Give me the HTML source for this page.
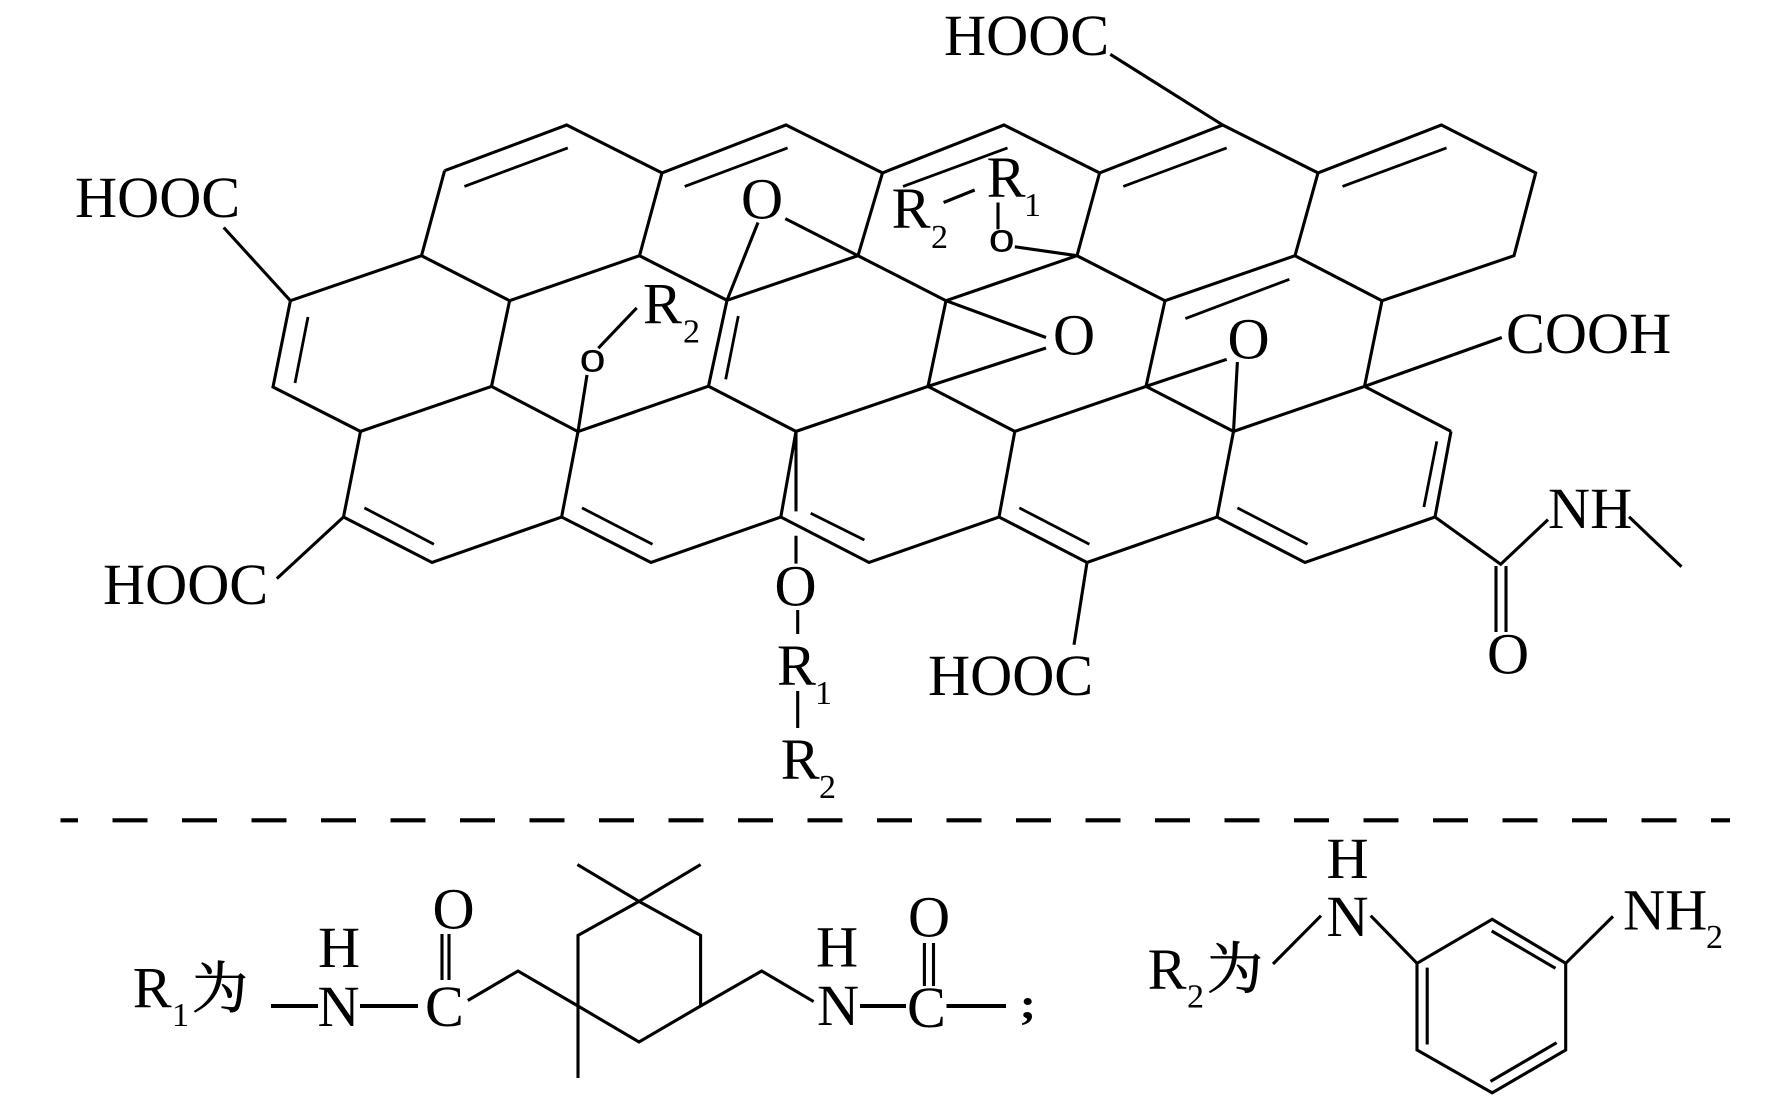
<!DOCTYPE html>
<html><head><meta charset="utf-8"><style>
html,body{margin:0;padding:0;background:#fff}
svg{display:block}
text{font-family:"Liberation Serif","Noto Serif CJK SC",serif;font-size:58.3px;fill:#000}
.s{font-size:34px}
.o{font-size:47px;font-family:"Liberation Sans",sans-serif}
.c{font-size:56px;font-family:"Noto Serif CJK SC","Liberation Serif",serif;stroke:#000;stroke-width:.8px}
</style></head><body>
<svg width="1772" height="1109" viewBox="0 0 1772 1109" xmlns="http://www.w3.org/2000/svg">
<g fill="none" stroke="#000" stroke-width="3.1" stroke-linecap="butt" stroke-linejoin="miter">
<!-- lattice -->
<path d="M444.6 170.7L566.7 125L662 172.9L786 125L882.5 172.9L1004 125L1099.6 172.9L1222.7 125L1318 172.9L1441.4 125L1535.7 172.9L1514 255.7L1382 300.7"/>
<path d="M444.6 170.7L421.5 255.7M662 172.9L639.5 255.7M882.5 172.9L858 255.7M1099.6 172.9L1077 255.7M1318 172.9L1295 255.7"/>
<path d="M290.4 300.7L421.5 255.7L509.6 300.7L639.5 255.7L727 300.3L858 255.7L946 300.7L1077 255.7L1165 300.7L1295 255.7L1382 300.7"/>
<path d="M290.4 300.7L273 387L360.5 431.4L491.5 386.4L578 431.6L708.5 386.2L796 431.4L928 386.4L1014.8 431.4L1146 386.4L1233.5 431.4L1364.5 386.4L1451 431.4"/>
<path d="M509.6 300.7L491.5 386.4M727 300.3L708.5 386.2M946 300.7L928 386.4M1165 300.7L1146 386.4M1382 300.7L1364.5 386.4"/>
<path d="M360.5 431.4L343.5 517M578 431.6L561.6 517M796 431.4L780.8 517M1014.8 431.4L999 517M1233.5 431.4L1217 517M1451 431.4L1435 517"/>
<path d="M343.5 517L432 562.5L561.6 517L651 562.5L780.8 517L869 562.5L999 517L1087 562.5L1217 517L1305 562.5L1435 517"/>
<!-- inner double bonds -->
<g stroke-width="2.8">
<path d="M464.4 186.4L567.8 147.9M684.7 186.4L787.6 147.9M903 186.4L1007.5 147.9M1123.3 186.4L1226.7 147.9M1342.5 186.4L1446.5 147.9M1185.4 318.6L1289.4 279.3"/>
<path d="M308 317L295 383M738.3 316L725.7 379.3M1436.8 441.4L1423.9 507"/>
<path d="M364.4 507.9L433.9 544.3M582 507.9L652.5 544.3M810.7 513.2L864.4 540M1019.3 507.9L1089.4 544.3M1237.4 507.9L1307.5 544.3"/>
</g>
<!-- substituent bonds -->
<path d="M223.7 227.5L290.4 300.7M1110.3 54.3L1222.7 125M276.8 578.6L343.5 517M1087 562.5L1074 644.8"/>
<path d="M758 222.5L727 300.3M785.3 218.6L858 255.7"/>
<path d="M636.7 307.9L598.3 348.2M587 375L578 431.6"/>
<path d="M796 431.4L796 511.4M796 535.7L796 563.6M797.7 610L797.7 634M797.7 691L797.7 728"/>
<path d="M943.6 202.5L974.7 190M998 202.5L998 229.3M1014.8 246.8L1077 255.7"/>
<path d="M946 300.7L1046 337.5M1046 348L928 386.4M1226.7 359.3L1146 386.4M1237.4 362L1233.5 431.4"/>
<path d="M1501.8 337.5L1364.5 386.4"/>
<path d="M1435 517L1500.7 564.3L1548 519.6M1629 516.8L1681.5 566.8M1496 566L1496 632M1506 566L1506 632"/>
<!-- dashed divider -->
<line x1="60.5" y1="820.3" x2="1730" y2="820.3" stroke-width="4.2" stroke-dasharray="35 34.5" stroke-dashoffset="17.5"/>
<!-- R1 definition -->
<path d="M271 1006L318 1006M360 1006L418 1006M860 1006L906 1006M946.5 1006L1006 1006" stroke-width="4"/>
<path d="M442 934L442 980M449 934L449 980M924.4 943L924.4 986M933.5 943L933.5 986"/>
<path d="M467.8 1000.5L518 971L578 1006L639 1042L700.6 1006L761.6 971L813.6 1001.6"/>
<path d="M578 1078L578 935.4L639 901.4L700.6 935.4L700.6 1006M577.4 864.6L639 901.4M700.6 864.6L639 901.4"/>
<!-- R2 definition -->
<path d="M1273 964L1321 915.7M1370.7 915.7L1417 963.3M1565.7 963.3L1613 916.4"/>
<path d="M1417 963.3L1492.2 919.3L1565.7 963.3L1565.7 1050L1492.2 1092.8L1417 1050Z"/>
<path d="M1491.7 931L1555.5 968.3M1427.2 967.6L1427.2 1044.5M1556.6 1042.7L1490.5 1081.4"/>
</g>
<text x="75" y="217">HOOC</text>
<text x="944" y="55">HOOC</text>
<text x="103" y="604">HOOC</text>
<text x="928" y="695">HOOC</text>
<text x="1506" y="353">COOH</text>
<text x="1548" y="528">NH</text>
<text x="741" y="218.5">O</text>
<text x="1053" y="354.5">O</text>
<text x="1227.5" y="358.5">O</text>
<text x="774.5" y="605.5">O</text>
<text x="1487" y="673.5">O</text>
<text x="643" y="323.3">R</text><text class="s" x="683" y="342.7">2</text>
<text class="o" transform="translate(579.5,371.3) scale(1,.85)">o</text>
<text x="986.6" y="197">R</text><text class="s" x="1024" y="216">1</text>
<text x="891.6" y="228">R</text><text class="s" x="931" y="248">2</text>
<text class="o" transform="translate(988.6,251.3) scale(1,.85)">o</text>
<text x="777" y="685">R</text><text class="s" x="815" y="704">1</text>
<text x="780.8" y="779">R</text><text class="s" x="819" y="798">2</text>
<text x="132.8" y="1007.5">R</text><text class="s" x="172" y="1026">1</text>
<text class="c" x="192" y="1008">为</text>
<text x="318" y="967">H</text>
<text x="317.5" y="1026">N</text>
<text x="425" y="1026">C</text>
<text x="432.5" y="928.5">O</text>
<text x="816" y="966.5">H</text>
<text x="817" y="1025">N</text>
<text x="907" y="1027">C</text>
<text x="908" y="936.5">O</text>
<text transform="translate(1019.5,1018.5) scale(1,.87)" style="font-size:50px;font-weight:bold">;</text>
<text x="1147.6" y="989">R</text><text class="s" x="1187" y="1007.5">2</text>
<text class="c" x="1207" y="988.5">为</text>
<text x="1326.5" y="878">H</text>
<text x="1326.5" y="936">N</text>
<text x="1623" y="929.5">NH</text><text class="s" x="1706" y="948">2</text>
</svg>
</body></html>
